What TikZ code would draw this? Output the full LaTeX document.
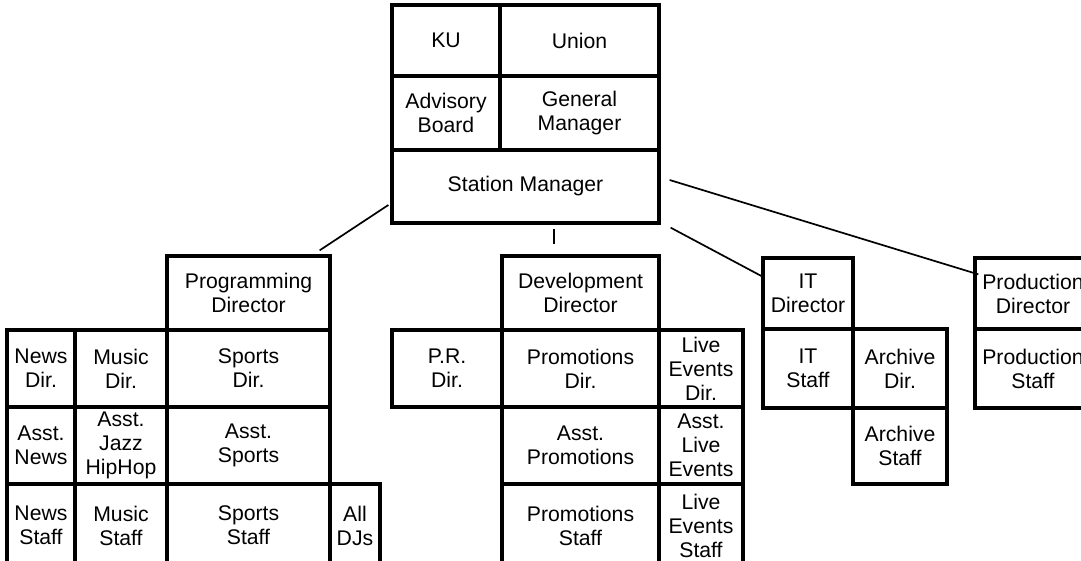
\documentclass[tikz,border=0pt]{standalone}
\usepackage{fontspec}
\setmainfont{Liberation Sans}
\usetikzlibrary{calc}
\tikzset{
  cell/.style={draw, line width=3.3pt, inner sep=0pt, align=center,
    font=\fontsize{21.2pt}{24pt}\selectfont},
  conn/.style={line width=1.7pt}
}
\newcommand\cellbox[6]{%
  \node[cell, minimum width={(#4-#2)*1pt}, minimum height={(#5-#3)*1pt}]
    (#1) at ({(#2+#4)/2},{(#3+#5)/2+1}) {#6};}
\begin{document}
\begin{tikzpicture}[x=1pt,y=-1pt]
\useasboundingbox (0,0) rectangle (1081,560);
% top block
\cellbox{ku}{392}{4}{500}{75}{KU}
\cellbox{union}{500}{4}{659}{75}{Union}
\cellbox{ab}{392}{75}{500}{149}{Advisory\\Board}
\cellbox{gm}{500}{75}{659}{149}{General\\Manager}
\cellbox{sm}{392}{149}{659}{222}{Station Manager}
% programming
\cellbox{pd}{167}{255}{330}{329}{Programming\\Director}
\cellbox{nd}{7}{329}{75}{406}{News\\Dir.}
\cellbox{md}{75}{329}{167}{406}{Music\\Dir.}
\cellbox{sd}{167}{329}{330}{406}{Sports\\Dir.}
\cellbox{an}{7}{406}{75}{483}{Asst.\\News}
\cellbox{aj}{75}{406}{167}{483}{Asst.\\Jazz\\HipHop}
\cellbox{as}{167}{406}{330}{483}{Asst.\\Sports}
\cellbox{ns}{7}{483}{75}{566}{News\\Staff}
\cellbox{ms}{75}{483}{167}{566}{Music\\Staff}
\cellbox{ss}{167}{483}{330}{566}{Sports\\Staff}
\cellbox{dj}{330}{483}{380}{566}{All\\DJs}
% development
\cellbox{dd}{502}{255}{659}{329}{Development\\Director}
\cellbox{pr}{392}{329}{502}{406}{P.R.\\Dir.}
\cellbox{pmd}{502}{329}{659}{406}{Promotions\\Dir.}
\cellbox{led}{659}{329}{743}{406}{Live\\Events\\Dir.}
\cellbox{apm}{502}{406}{659}{483}{Asst.\\Promotions}
\cellbox{ale}{659}{406}{743}{483}{Asst.\\Live\\Events}
\cellbox{pms}{502}{483}{659}{566}{Promotions\\Staff}
\cellbox{les}{659}{483}{743}{566}{Live\\Events\\Staff}
% IT
\cellbox{itd}{763}{257}{853}{328}{IT\\Director}
\cellbox{its}{763}{328}{853}{407}{IT\\Staff}
\cellbox{ard}{853}{328}{947}{407}{Archive\\Dir.}
\cellbox{ars}{853}{407}{947}{483}{Archive\\Staff}
% production
\cellbox{prd}{975}{257}{1091}{328}{Production\\Director}
\cellbox{prs}{975}{328}{1091}{407}{Production\\Staff}
% connectors
\draw[conn] ($(sm.west)+(-2,18.5)$) -- ($(pd.north east)+(-12,-4)$);
\draw[conn] ($(sm.south)+(28.5,4)$) -- ($(dd.north)+(-26.5,-10)$);
\draw[conn] ($(sm.south east)+(10,3)$) -- ($(itd.west)+(0,-17.5)$);
\draw[conn] ($(sm.east)+(9,-6.5)$) -- ($(prd.north west)+(5,18)$);
\end{tikzpicture}
\end{document}
